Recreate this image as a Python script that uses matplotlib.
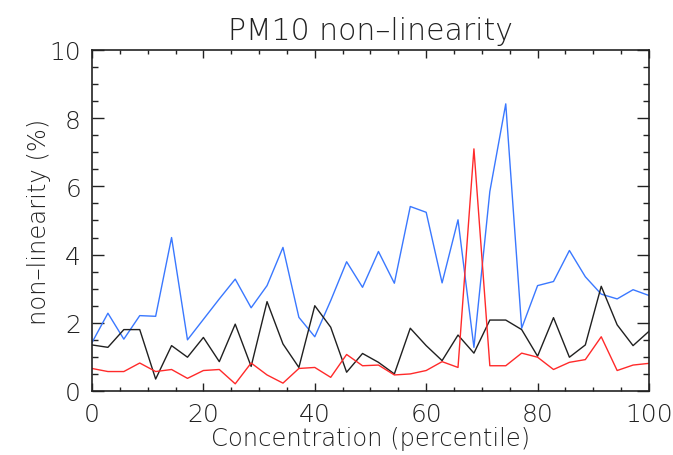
import numpy as np
import matplotlib
matplotlib.use("Agg")
import matplotlib.pyplot as plt
from matplotlib.ticker import MultipleLocator

# percentile positions (36 bins, 0..100)
percentile = np.linspace(0, 100, 36)

blue_vals = [1.42, 2.28, 1.52, 2.21, 2.19, 4.50, 1.50, 2.10, 2.70, 3.28,
             2.44, 3.09, 4.21, 2.16, 1.59, 2.65, 3.79, 3.04, 4.09, 3.16,
             5.41, 5.24, 3.17, 5.02, 1.28, 5.85, 8.42, 1.84, 3.09, 3.21,
             4.12, 3.35, 2.84, 2.70, 2.97, 2.80]

black_vals = [1.35, 1.28, 1.80, 1.80, 0.35, 1.33, 0.99, 1.57, 0.86, 1.96,
              0.72, 2.62, 1.38, 0.69, 2.50, 1.87, 0.55, 1.10, 0.84, 0.50,
              1.84, 1.33, 0.89, 1.64, 1.11, 2.08, 2.08, 1.80, 1.02, 2.15,
              0.99, 1.35, 3.07, 1.94, 1.33, 1.75]

red_vals = [0.66, 0.57, 0.57, 0.82, 0.57, 0.63, 0.37, 0.60, 0.63, 0.21,
            0.82, 0.47, 0.23, 0.66, 0.69, 0.40, 1.07, 0.74, 0.76, 0.47,
            0.50, 0.60, 0.86, 0.69, 7.10, 0.74, 0.74, 1.11, 0.99, 0.63,
            0.84, 0.92, 1.59, 0.60, 0.76, 0.81]

text_col = '#222222'
plt.rcParams['font.weight'] = 'light'
plt.rcParams['axes.titleweight'] = 'light'
plt.rcParams['axes.labelweight'] = 'light'

fig = plt.figure(figsize=(6.73, 4.56), dpi=100)
ax = fig.add_axes([0.1367, 0.1404, 0.9643 - 0.1367, 0.8882 - 0.1404])

ax.plot(percentile, blue_vals, color='#3a78ff', lw=1.0)
ax.plot(percentile, black_vals, color='#202020', lw=1.0)
ax.plot(percentile, red_vals, color='#ff2a2a', lw=1.0)

ax.set_xlim(0, 100)
ax.set_ylim(0, 10)
ax.xaxis.set_major_locator(MultipleLocator(20))
ax.xaxis.set_minor_locator(MultipleLocator(5))
ax.yaxis.set_major_locator(MultipleLocator(2))
ax.yaxis.set_minor_locator(MultipleLocator(0.5))

ax.tick_params(axis='both', which='both', direction='in', top=True, right=True,
               colors=text_col, labelsize=18, width=1.0)
ax.tick_params(axis='x', which='major', length=5.5, pad=8)
ax.tick_params(axis='x', which='minor', length=2.8)
ax.tick_params(axis='y', which='major', length=8.6, pad=8)
ax.tick_params(axis='y', which='minor', length=4.3)
for sp in ax.spines.values():
    sp.set_color(text_col)
    sp.set_linewidth(1.2)

ax.set_title('PM10 non\u2013linearity', fontsize=21.5, color=text_col, pad=8)
ax.set_xlabel('Concentration (percentile)', fontsize=17.5, color=text_col, labelpad=0)
ax.set_ylabel('non\u2013linearity (%)', fontsize=17.5, color=text_col, labelpad=-1)

fig.savefig('out.png', dpi=100)
